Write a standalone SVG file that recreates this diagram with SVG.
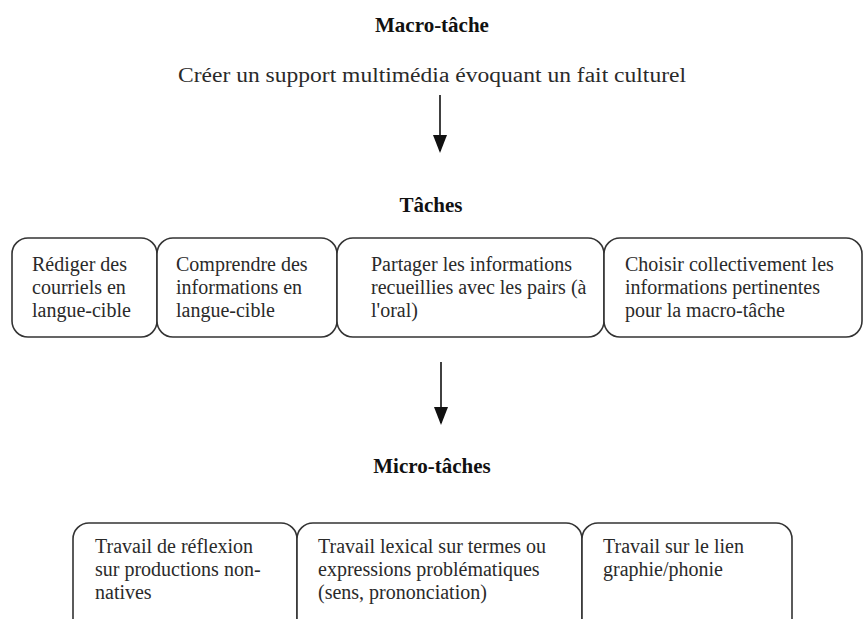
<svg xmlns="http://www.w3.org/2000/svg" width="864" height="619" viewBox="0 0 864 619">
<style>
.h{font-family:"Liberation Serif","Times New Roman",serif;font-weight:bold;font-size:21px;fill:#111;text-anchor:middle}
.t{font-family:"Liberation Serif","Times New Roman",serif;font-size:20px;fill:#2a2a2a}
.box{fill:#fff;stroke:#333;stroke-width:1.6}
.ln{stroke:#111;stroke-width:1.6;fill:none}
</style>
<defs>
<marker id="ah" viewBox="0 0 18 14" refX="16" refY="7" markerWidth="18" markerHeight="14" markerUnits="userSpaceOnUse" orient="auto">
<path d="M0,0 L18,7 L0,14 Z" fill="#111"/>
</marker>
</defs>
<rect width="864" height="619" fill="#fff"/>
<g id="macro">
<text class="h" x="432" y="32">Macro-tâche</text>
<text class="t" x="178" y="82" font-size="22" textLength="508" lengthAdjust="spacingAndGlyphs">Créer un support multimédia évoquant un fait culturel</text>
</g>
<g id="taches-title"><text class="h" x="431" y="212">Tâches</text></g>
<g id="t1"><rect class="box" x="12" y="238" width="145" height="99" rx="16"/>
<text class="t" x="32"><tspan x="32" y="271">Rédiger des</tspan><tspan x="32" y="294">courriels en</tspan><tspan x="32" y="317">langue-cible</tspan></text></g>
<g id="t2"><rect class="box" x="157" y="238" width="180" height="99" rx="16"/>
<text class="t"><tspan x="176" y="271">Comprendre des</tspan><tspan x="176" y="294">informations en</tspan><tspan x="176" y="317">langue-cible</tspan></text></g>
<g id="t3"><rect class="box" x="337" y="238" width="267" height="99" rx="16"/>
<text class="t"><tspan x="371" y="271">Partager les informations</tspan><tspan x="371" y="294">recueillies avec les pairs (à</tspan><tspan x="371" y="317">l'oral)</tspan></text></g>
<g id="t4"><rect class="box" x="604" y="238" width="258" height="99" rx="16"/>
<text class="t"><tspan x="625" y="271">Choisir collectivement les</tspan><tspan x="625" y="294">informations pertinentes</tspan><tspan x="625" y="317">pour la macro-tâche</tspan></text></g>
<g id="micro-title"><text class="h" x="432" y="473">Micro-tâches</text></g>
<g id="m1"><rect class="box" x="73" y="523" width="224" height="130" rx="16"/>
<text class="t"><tspan x="95" y="553">Travail de réflexion</tspan><tspan x="95" y="576">sur productions non-</tspan><tspan x="95" y="599">natives</tspan></text></g>
<g id="m2"><rect class="box" x="297" y="523" width="285" height="130" rx="16"/>
<text class="t"><tspan x="318" y="553">Travail lexical sur termes ou</tspan><tspan x="318" y="576">expressions problématiques</tspan><tspan x="318" y="599">(sens, prononciation)</tspan></text></g>
<g id="m3"><rect class="box" x="582" y="523" width="210" height="130" rx="16"/>
<text class="t"><tspan x="603" y="553">Travail sur le lien</tspan><tspan x="603" y="576">graphie/phonie</tspan></text></g>
<g id="connectors">
<line class="ln" x1="440" y1="95" x2="440" y2="151" marker-end="url(#ah)"/>
<line class="ln" x1="441" y1="362" x2="441" y2="423" marker-end="url(#ah)"/>
</g>
</svg>
